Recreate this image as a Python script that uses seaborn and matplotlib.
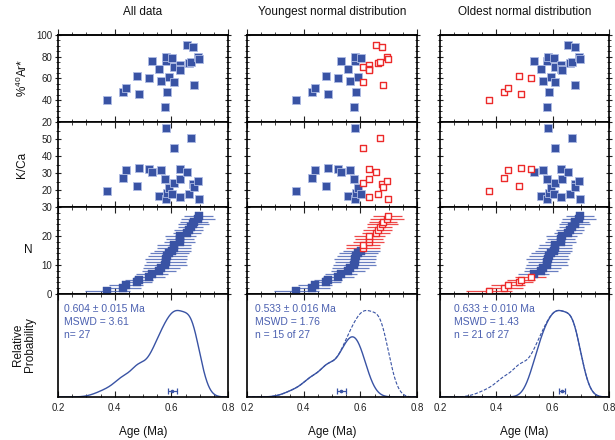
import numpy as np
import pandas as pd
import matplotlib
matplotlib.use("Agg")
import matplotlib.pyplot as plt
import seaborn as sns
from matplotlib.ticker import MultipleLocator, FixedLocator

# ---------------- data ----------------
ages = [0.374, 0.428, 0.440, 0.480, 0.487, 0.522, 0.532, 0.558, 0.565, 0.579,
        0.581, 0.582, 0.586, 0.593, 0.604, 0.608, 0.610, 0.629, 0.631, 0.632,
        0.655, 0.661, 0.668, 0.678, 0.679, 0.694, 0.696]
ar40 = [40.0, 47.7, 51.4, 62.5, 45.8, 60.0, 75.7, 68.6, 57.8, 33.8,
        75.7, 79.7, 47.7, 61.0, 79.0, 71.0, 56.5, 72.8, 69.0, 67.8,
        90.5, 74.5, 75.2, 89.3, 54.0, 79.5, 78.3]
kca = [19.2, 27.2, 32.0, 22.5, 33.2, 32.4, 30.8, 16.3, 31.6, 26.2,
       14.5, 56.2, 18.3, 21.3, 17.5, 24.4, 44.8, 32.4, 15.8, 26.4,
       30.4, 17.8, 50.6, 23.6, 21.9, 25.5, 14.7]
err2s = [0.080, 0.065, 0.060, 0.050, 0.050, 0.055, 0.055, 0.060, 0.065, 0.075,
         0.070, 0.075, 0.070, 0.070, 0.065, 0.060, 0.060, 0.055, 0.050, 0.055,
         0.050, 0.050, 0.045, 0.055, 0.050, 0.060, 0.050]

col_titles = ["All data", "Youngest normal distribution", "Oldest normal distribution"]
mean_ages = [0.604, 0.533, 0.633]
mean_errs = [0.015, 0.016, 0.010]
mswd_vals = [3.61, 1.76, 1.43]
n_texts = ["n= 27", "n = 15 of 27", "n = 21 of 27"]
n_young = 15   # youngest subset size
n_old_excl = 6  # youngest excluded from oldest subset
x_ticks = [0.2, 0.4, 0.6, 0.8]

# ---------------- style ----------------
sns.set_theme(style="ticks")
plt.rcParams["font.family"] = ["Liberation Sans", "DejaVu Sans"]
plt.rcParams["mathtext.fontset"] = "custom"
plt.rcParams["mathtext.rm"] = "Liberation Sans"
plt.rcParams["mathtext.it"] = "Liberation Sans:italic"

BLUE = "#3953a4"
EDGE = "#aebbe3"
EBLUE = "#4d67b6"
RED = "#ec2a2a"
TXT = "#4b60b0"

df = pd.DataFrame(dict(age=ages, ar=ar40, kca=kca, err=err2s))
df = df.sort_values("age").reset_index(drop=True)
n = len(df)
df["rank"] = np.arange(1, n + 1)

masks = [np.ones(n, bool),
         (df["rank"] <= n_young).values,
         (df["rank"] > n_old_excl).values]

grid = np.linspace(0.2, 0.8, 801)


def prob(mask):
    sub = df[mask]
    sig = sub["err"].values / 2.0
    mu = sub["age"].values
    return (np.exp(-0.5 * ((grid[:, None] - mu) / sig) ** 2) / sig).sum(axis=1)


full_curve = prob(masks[0])
pmax = full_curve.max() / 0.84

W, H = 615, 440
fig = plt.figure(figsize=(W / 100, H / 100), dpi=100)
col_x = [(58, 228), (247, 417), (440, 609)]
row_y = [(35, 122), (122, 207), (207, 294), (294, 397)]


def add_ax(c, r):
    x0, x1 = col_x[c]
    y0, y1 = row_y[r]
    return fig.add_axes([x0 / W, 1 - y1 / H, (x1 - x0) / W, (y1 - y0) / H])


def style_ax(ax, c, r):
    ax.set_xlim(0.2, 0.8)
    ax.xaxis.set_major_locator(FixedLocator(x_ticks))
    ax.xaxis.set_minor_locator(MultipleLocator(0.05))
    ax.tick_params(axis="x", which="both", direction="in",
                   bottom=True, top=(r != 0), labelbottom=(r == 3),
                   labelsize=7, colors="#222222", pad=4)
    ax.tick_params(axis="x", which="major", length=4, width=0.8)
    ax.tick_params(axis="x", which="minor", length=2.2, width=0.6)
    if r < 3:
        ax.tick_params(axis="y", which="both", direction="inout",
                       left=True, right=True, labelleft=(c == 0),
                       labelsize=7, colors="#222222", pad=2)
        ax.tick_params(axis="y", which="major", length=4, width=0.8)
        ax.tick_params(axis="y", which="minor", length=2.5, width=0.6)
    else:
        ax.tick_params(axis="y", which="both", left=False, right=False,
                       labelleft=False)
    for s in ax.spines.values():
        s.set_visible(True)
        s.set_linewidth(1.2)
        s.set_color("black")
    if r == 0:
        sec = ax.secondary_xaxis("top")
        sec.xaxis.set_major_locator(FixedLocator(x_ticks))
        sec.xaxis.set_minor_locator(MultipleLocator(0.05))
        sec.tick_params(axis="x", which="both", direction="out", labeltop=False)
        sec.tick_params(axis="x", which="major", length=4, width=0.8)
        sec.tick_params(axis="x", which="minor", length=2.2, width=0.6)
        sec.spines["top"].set_linewidth(1.2)
    ax.set_xlabel("")
    ax.set_ylabel("")


for c in range(3):
    m = masks[c]
    blue_df = df[m]
    red_df = df[~m]

    # Row 1: %40Ar*
    ax = add_ax(c, 0)
    sns.scatterplot(data=blue_df, x="age", y="ar", marker="s", s=26,
                    color=BLUE, edgecolor=EDGE, linewidth=0.6, ax=ax, zorder=3)
    if len(red_df):
        sns.scatterplot(data=red_df, x="age", y="ar", marker="s", s=15,
                        color="white", edgecolor=RED, linewidth=1.0, ax=ax, zorder=3)
    ax.set_ylim(20, 100)
    ax.yaxis.set_major_locator(FixedLocator([20, 40, 60, 80, 100]))
    ax.yaxis.set_minor_locator(MultipleLocator(5))
    style_ax(ax, c, 0)

    # Row 2: K/Ca
    ax = add_ax(c, 1)
    sns.scatterplot(data=blue_df, x="age", y="kca", marker="s", s=26,
                    color=BLUE, edgecolor=EDGE, linewidth=0.6, ax=ax, zorder=3)
    if len(red_df):
        sns.scatterplot(data=red_df, x="age", y="kca", marker="s", s=15,
                        color="white", edgecolor=RED, linewidth=1.0, ax=ax, zorder=3)
    ax.set_ylim(10, 60)
    ax.yaxis.set_major_locator(FixedLocator([20, 30, 40, 50]))
    ax.yaxis.set_minor_locator(MultipleLocator(5))
    style_ax(ax, c, 1)

    # Row 3: rank plot
    ax = add_ax(c, 2)
    ax.errorbar(blue_df["age"], blue_df["rank"], xerr=blue_df["err"], fmt="none",
                ecolor=EBLUE, elinewidth=0.9, alpha=0.85, zorder=2)
    if len(red_df):
        ax.errorbar(red_df["age"], red_df["rank"], xerr=red_df["err"], fmt="none",
                    ecolor=RED, elinewidth=0.9, alpha=0.85, zorder=2)
    sns.scatterplot(data=blue_df, x="age", y="rank", marker="s", s=30,
                    color=BLUE, edgecolor=BLUE, linewidth=0.3, ax=ax, zorder=3)
    if len(red_df):
        sns.scatterplot(data=red_df, x="age", y="rank", marker="s", s=18,
                        color="white", edgecolor=RED, linewidth=1.0, ax=ax, zorder=3)
    ax.set_ylim(0, 30)
    ax.yaxis.set_major_locator(FixedLocator([0, 10, 20, 30]))
    ax.yaxis.set_minor_locator(MultipleLocator(2))
    style_ax(ax, c, 2)

    # Row 4: relative probability
    ax = add_ax(c, 3)
    if c > 0:
        sns.lineplot(x=grid, y=full_curve, ax=ax, color=BLUE, linewidth=0.8,
                     linestyle=(0, (3, 1.5)))
    sns.lineplot(x=grid, y=prob(m), ax=ax, color=BLUE, linewidth=1.0)
    ax.set_ylim(0, pmax)
    ax.errorbar([mean_ages[c]], [0.055 * pmax], xerr=[mean_errs[c]], fmt="o",
                ms=1.6, color=BLUE, elinewidth=0.9, capsize=2.2, capthick=0.9)
    tx = [0.035, 0.047, 0.083][c]
    lines = [f"{mean_ages[c]:.3f} \u00b1 {mean_errs[c]:.3f} Ma",
             f"MSWD = {mswd_vals[c]:.2f}", n_texts[c]]
    for i, t in enumerate(lines):
        ax.text(tx, 0.855 - 0.127 * i, t, transform=ax.transAxes, color=TXT,
                fontsize=7.5, ha="left", va="center")
    style_ax(ax, c, 3)

    # titles and x labels
    cx = (col_x[c][0] + col_x[c][1]) / 2
    fig.text(cx / W, 1 - 12 / H, col_titles[c], ha="center", va="center",
             fontsize=8.5, color="#111111")
    fig.text(cx / W, 1 - 432 / H, "Age (Ma)", ha="center", va="center",
             fontsize=8.5, color="#111111")

# y labels
fig.text(22 / W, 1 - 78 / H, r"%$^{40}$Ar*", rotation=90, ha="center",
         va="center", fontsize=8.5, color="#111111")
fig.text(22 / W, 1 - 165 / H, "K/Ca", rotation=90, ha="center",
         va="center", fontsize=8.5, color="#111111")
fig.text(28 / W, 1 - 250 / H, "N", rotation=0, ha="center",
         va="center", fontsize=8.5, color="#111111")
fig.text(24 / W, 1 - 345 / H, "Relative\nProbability", rotation=90, ha="center",
         va="center", fontsize=8.5, color="#111111", linespacing=1.05)

fig.savefig("out.png", dpi=100)
